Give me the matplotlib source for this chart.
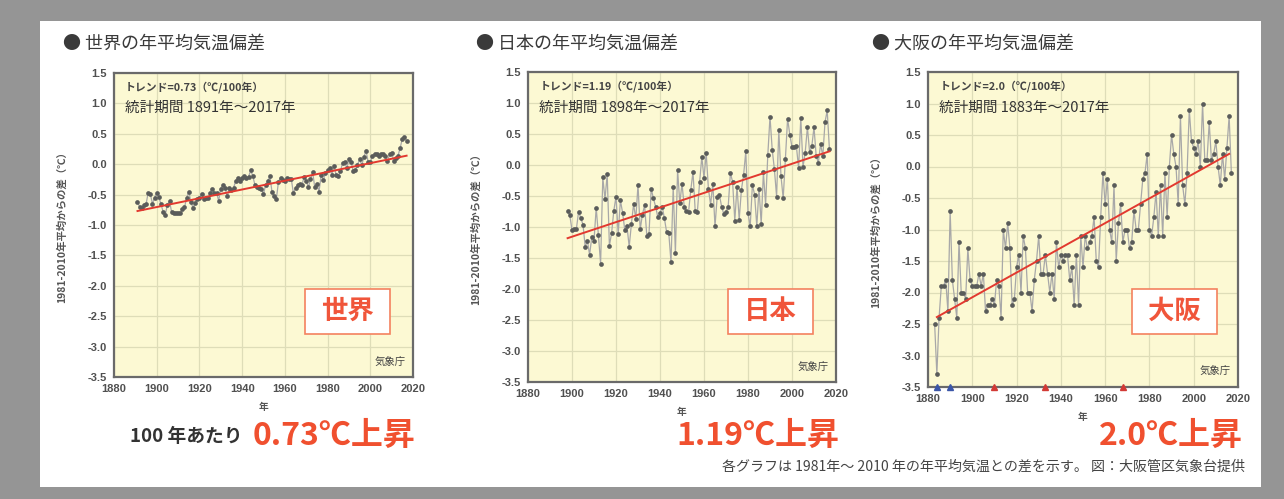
import numpy as np
import matplotlib
matplotlib.use('Agg')
import matplotlib.pyplot as plt
from matplotlib.patches import Rectangle

plt.rcParams['font.family'] = ['Noto Sans CJK JP', 'DejaVu Sans']

# ---- data (anomaly from 1981-2010 mean, degC) ----
world_years = np.arange(1891, 2018)
world_anom = [
    -0.62, -0.70, -0.72, -0.67, -0.66, -0.47, -0.49, -0.65, -0.55,
    -0.48, -0.54, -0.66, -0.78, -0.83, -0.67, -0.61, -0.79, -0.80, -0.81,
    -0.80, -0.81, -0.74, -0.71, -0.56, -0.45, -0.62, -0.72, -0.63, -0.57,
    -0.55, -0.49, -0.58, -0.55, -0.56, -0.48, -0.40, -0.48, -0.47, -0.60,
    -0.40, -0.35, -0.39, -0.53, -0.39, -0.43, -0.39, -0.27, -0.23, -0.28,
    -0.22, -0.20, -0.22, -0.21, -0.10, -0.20, -0.34, -0.37, -0.39, -0.40,
    -0.49, -0.34, -0.28, -0.20, -0.46, -0.53, -0.58, -0.29, -0.22, -0.26,
    -0.28, -0.23, -0.25, -0.24, -0.48, -0.39, -0.34, -0.33, -0.34, -0.21,
    -0.27, -0.38, -0.25, -0.13, -0.38, -0.32, -0.45, -0.18, -0.26, -0.15,
    -0.10, -0.07, -0.17, -0.03, -0.17, -0.19, -0.12, 0.02, 0.03, -0.07,
    0.08, 0.04, -0.11, -0.09, -0.01, 0.08, -0.02, 0.12, 0.22, 0.04,
    0.03, 0.14, 0.17, 0.16, 0.13, 0.17, 0.16, 0.13, 0.05, 0.16,
    0.18, 0.06, 0.11, 0.14, 0.27, 0.42, 0.45, 0.38,
]
world_trend_years = [1891, 2017]
world_trend_vals = [-0.77, 0.14]

japan_years = np.arange(1898, 2018)
japan_anom = [
    -0.74, -0.81,
    -1.05, -1.04, -1.03, -0.75, -0.86, -0.96, -1.32, -1.22, -1.45, -1.16,
    -1.22, -0.69, -1.13, -1.59, -0.20, -0.55, -0.15, -1.30, -1.10, -0.74,
    -0.51, -1.11, -0.57, -0.77, -1.05, -0.99, -1.32, -0.95, -0.63, -0.87,
    -0.32, -1.04, -0.80, -0.65, -1.14, -1.11, -0.38, -0.54, -0.67, -0.84,
    -0.78, -0.67, -0.86, -1.08, -1.10, -1.57, -0.35, -1.42, -0.08, -0.62,
    -0.30, -0.67, -0.74, -0.75, -0.40, -0.11, -0.74, -0.75, -0.28, 0.13,
    -0.21, 0.19, -0.38, -0.64, -0.30, -0.99, -0.51, -0.48, -0.67, -0.79,
    -0.75, -0.67, -0.13, -0.27, -0.90, -0.35, -0.88, -0.40, -0.16, 0.22,
    -0.78, -0.99, -0.32, -0.48, -0.99, -0.38, -0.95, -0.12, -0.64, 0.16,
    0.78, 0.25, -0.07, -0.51, 0.56, -0.18, -0.54, 0.10, 0.75, 0.49,
    0.29, 0.29, 0.30, -0.05, 0.76, -0.03, 0.20, 0.61, 0.21, 0.30,
    0.61, 0.14, 0.04, 0.34, 0.14, 0.69, 0.88, 0.26,
]
japan_trend_years = [1898, 2017]
japan_trend_vals = [-1.18, 0.22]

osaka_years = np.arange(1883, 2018)
osaka_anom = [
    -2.5, -3.3, -2.4, -1.9, -1.9, -1.8, -2.3,
    -0.7, -1.8, -2.1, -2.4, -1.2, -2.0, -2.0, -2.1, -1.3, -1.8,
    -1.9, -1.9, -1.9, -1.7, -1.9, -1.7, -2.3, -2.2, -2.2, -2.1,
    -2.2, -1.8, -1.9, -2.4, -1.0, -1.3, -0.9, -1.3, -2.2, -2.1,
    -1.6, -1.4, -2.0, -1.1, -1.3, -2.0, -2.0, -2.3, -1.8, -1.5,
    -1.1, -1.7, -1.7, -1.4, -1.7, -2.0, -1.7, -2.1, -1.2, -1.6,
    -1.4, -1.5, -1.4, -1.4, -1.8, -1.6, -2.2, -1.4, -2.2, -1.1,
    -1.6, -1.1, -1.3, -1.2, -1.1, -0.8, -1.5, -1.6, -0.8, -0.1,
    -0.6, -0.2, -1.0, -1.2, -0.3, -1.5, -0.9, -0.6, -1.2, -1.0,
    -1.0, -1.3, -1.2, -0.7, -1.0, -1.0, -0.6, -0.2, -0.1, 0.2,
    -1.0, -1.1, -0.8, -0.4, -1.1, -0.3, -1.1, -0.1, -0.8, 0.0,
    0.5, 0.2, 0.0, -0.6, 0.8, -0.3, -0.6, -0.1, 0.9, 0.4,
    0.3, 0.2, 0.4, 0.0, 1.0, 0.1, 0.1, 0.7, 0.1, 0.2,
    0.4, 0.0, -0.3, 0.2, -0.2, 0.3, 0.8, -0.1,
]
osaka_trend_years = [1884, 2016]
osaka_trend_vals = [-2.39, 0.20]
osaka_blue_marks = [1884, 1890]
osaka_red_marks = [1910, 1933, 1968]

panel_titles = ['● 世界の年平均気温偏差', '● 日本の年平均気温偏差', '● 大阪の年平均気温偏差']
trend_labels = ['トレンド=0.73（℃/100年）', 'トレンド=1.19（℃/100年）', 'トレンド=2.0（℃/100年）']
period_labels = ['統計期間 1891年～2017年', '統計期間 1898年～2017年', '統計期間 1883年～2017年']
region_names = ['世界', '日本', '大阪']
rise_labels = ['0.73℃上昇', '1.19℃上昇', '2.0℃上昇']
ylabel = '1981-2010年平均からの差（℃）'
xticks = [1880, 1900, 1920, 1940, 1960, 1980, 2000, 2020]
yticks = [-3.5, -3.0, -2.5, -2.0, -1.5, -1.0, -0.5, 0.0, 0.5, 1.0, 1.5]

W, H = 1284, 499
def fx(x):
    return x / W
def fy(y):
    return 1 - y / H

fig = plt.figure(figsize=(W / 100, H / 100), dpi=100)
fig.patch.set_facecolor('#959595')
fig.patches.append(Rectangle((fx(40), fy(487)), 1221 / W, 466 / H,
                             transform=fig.transFigure, facecolor='white',
                             edgecolor='none', zorder=-10))

# pixel boxes: left, top, right, bottom
axes_px = [(114, 73, 413, 377), (528, 72, 836, 382), (928, 72, 1238, 387)]
title_x = [63, 476, 872]
box_px = [(305, 289, 390, 334), (728, 289, 813, 334), (1132, 289, 1217, 334)]

series = [
    (world_years, world_anom, world_trend_years, world_trend_vals),
    (japan_years, japan_anom, japan_trend_years, japan_trend_vals),
    (osaka_years, osaka_anom, osaka_trend_years, osaka_trend_vals),
]

for i, (yrs, vals, ty, tv) in enumerate(series):
    l, t, r, b = axes_px[i]
    ax = fig.add_axes([fx(l), fy(b), (r - l) / W, (b - t) / H], zorder=2)
    ax.set_facecolor('#fcf9d3')
    ax.plot(yrs, vals, '-', color='#a8a8a8', lw=0.9, zorder=2)
    ax.plot(yrs, vals, 'o', ms=3.4, color='#5a5c5a', mec='none', zorder=3)
    ax.plot(ty, tv, color='#e2392f', lw=1.4, zorder=4)
    ax.set_xlim(1880, 2020)
    ax.set_ylim(-3.5, 1.5)
    ax.set_xticks(xticks)
    ax.set_yticks(yticks)
    ax.set_yticklabels([f'{v:.1f}' for v in yticks])
    ax.grid(color='#deddb8', lw=0.9)
    ax.set_axisbelow(True)
    for s in ax.spines.values():
        s.set_color('#6a6a6a')
        s.set_linewidth(1.6)
    ax.tick_params(length=0, pad=5, labelsize=8, labelcolor='#505050')
    for lab in ax.get_xticklabels() + ax.get_yticklabels():
        lab.set_fontfamily('Liberation Sans')
        lab.set_fontweight('bold')

    if i == 2:
        ax.plot(osaka_blue_marks, [-3.5] * len(osaka_blue_marks), '^', color='#3b56a8',
                ms=4.5, clip_on=False, zorder=5)
        ax.plot(osaka_red_marks, [-3.5] * len(osaka_red_marks), '^', color='#d23a35',
                ms=4.0, clip_on=False, zorder=5)

    ax.text(0.037, 0.954, trend_labels[i], transform=ax.transAxes, fontsize=7.8,
            fontweight='bold', color='#444444', va='center', ha='left')
    ax.text(0.037, 0.885, period_labels[i], transform=ax.transAxes, fontsize=10.5,
            color='#333333', va='center', ha='left')
    ax.text(0.975, 0.05, '気象庁', transform=ax.transAxes, fontsize=7.5,
            color='#444444', va='center', ha='right')
    ax.text(-52 / (r - l), 0.5, ylabel, transform=ax.transAxes, rotation=90,
            fontsize=7.5, fontweight='bold', color='#555555', ha='center', va='center')
    ax.text(0.5, -30 / (b - t), '年', transform=ax.transAxes, fontsize=7,
            fontweight='bold', color='#555555', ha='center', va='center')

    fig.text(fx(title_x[i]), fy(44), panel_titles[i], fontsize=13,
             color='#3a3a3a', va='center', ha='left')

    bl, bt, br, bb = box_px[i]
    fig.patches.append(Rectangle((fx(bl), fy(bb)), (br - bl) / W, (bb - bt) / H,
                                 transform=fig.transFigure, facecolor='white',
                                 edgecolor='#f4825f', lw=1.2, zorder=5))
    fig.text(fx((bl + br) / 2), fy((bt + bb) / 2), region_names[i], fontsize=19,
             fontweight='bold', color='#f0553a', ha='center', va='center', zorder=6)

fig.text(fx(243), fy(437), '100 年あたり', fontsize=13.5, fontweight='bold',
         color='#333333', ha='right', va='center')
fig.text(fx(253), fy(436), rise_labels[0], fontsize=23, fontweight='bold',
         color='#f0502f', ha='left', va='center')
fig.text(fx(676), fy(436), rise_labels[1], fontsize=23, fontweight='bold',
         color='#f0502f', ha='left', va='center')
fig.text(fx(1243), fy(436), rise_labels[2], fontsize=23, fontweight='bold',
         color='#f0502f', ha='right', va='center')
fig.text(fx(1245), fy(467), '各グラフは 1981年～ 2010 年の年平均気温との差を示す。 図：大阪管区気象台提供',
         fontsize=10.1, color='#444444', ha='right', va='center')

fig.savefig('out.png', dpi=100, facecolor=fig.get_facecolor())
